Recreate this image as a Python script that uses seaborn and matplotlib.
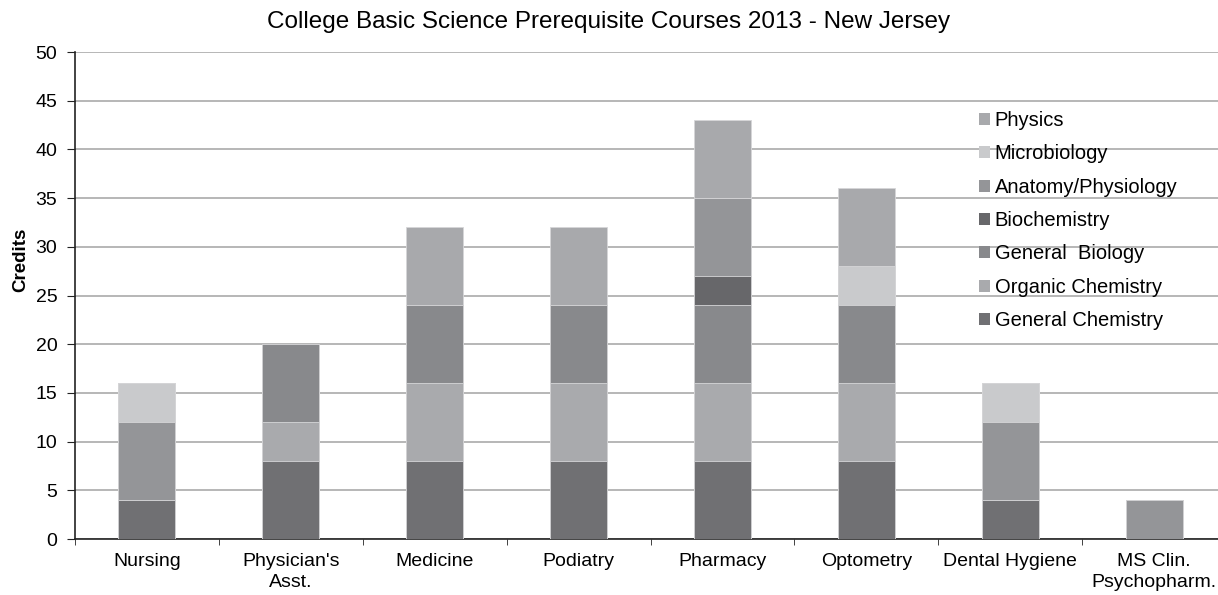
import pandas as pd
import matplotlib
matplotlib.use("Agg")
import matplotlib.pyplot as plt
import seaborn as sns
from matplotlib.patches import Patch

programs = ["Nursing", "Physician's\nAsst.", "Medicine", "Podiatry", "Pharmacy",
            "Optometry", "Dental Hygiene", "MS Clin.\nPsychopharm."]

# bottom-up stacking order
courses = ["General Chemistry", "Organic Chemistry", "General  Biology", "Biochemistry",
           "Anatomy/Physiology", "Microbiology", "Physics"]
general_chem = [4, 8, 8, 8, 8, 8, 4, 0]
organic_chem = [0, 4, 8, 8, 8, 8, 0, 0]
general_bio = [0, 8, 8, 8, 8, 8, 0, 0]
biochem = [0, 0, 0, 0, 3, 0, 0, 0]
anatomy_phys = [8, 0, 0, 0, 8, 0, 8, 4]
microbio = [4, 0, 0, 0, 0, 4, 4, 0]
physics = [0, 0, 8, 8, 8, 8, 0, 0]

colors = ["#707073", "#a9aaad", "#88898c", "#67676a", "#949598", "#c9cacc", "#a8a9ac"]

df = pd.DataFrame({"Program": programs, "General Chemistry": general_chem,
                   "Organic Chemistry": organic_chem, "General  Biology": general_bio,
                   "Biochemistry": biochem, "Anatomy/Physiology": anatomy_phys,
                   "Microbiology": microbio, "Physics": physics})
cum = df[courses].cumsum(axis=1)

plt.rcParams["font.family"] = ["Liberation Sans", "DejaVu Sans"]
fig, ax = plt.subplots(figsize=(12.18, 5.95), dpi=100)
fig.subplots_adjust(left=0.0616, right=1.0066, top=0.9126, bottom=0.094)

# draw from the tallest cumulative sum down so lower segments cover upper ones
for course, col in reversed(list(zip(courses, colors))):
    sns.barplot(x=df["Program"], y=cum[course], color=col, width=0.396,
                edgecolor="#d6d6d8", linewidth=0.6, ax=ax, zorder=3, saturation=1)

ax.set_ylim(0, 50)
ax.set_yticks(range(0, 51, 5))
ax.set_xlim(-0.5, len(programs) - 0.5)
ax.yaxis.grid(True, color="#a3a3a3", linewidth=1.1, zorder=0)
ax.set_axisbelow(True)
ax.set_xlabel("")
ax.set_ylabel("Credits", fontsize=13.5, fontweight="bold")
ax.yaxis.set_label_coords(-0.04, 0.573)
fig.suptitle("College Basic Science Prerequisite Courses 2013 - New Jersey",
             fontsize=17.5, x=0.5, y=0.981, va="top")
ax.tick_params(axis="both", labelsize=14, color="#222222", length=5.8)
ax.tick_params(axis="y", pad=7)
ax.tick_params(axis="x", length=0, pad=10)
ax.set_xticks(range(len(programs)))
ax.set_xticklabels(programs, linespacing=1.3)
# tick marks between categories
ax.set_xticks([i - 0.5 for i in range(len(programs) + 1)], minor=True)
ax.tick_params(axis="x", which="minor", length=4, color="#222222")
for s in ["top", "right"]:
    ax.spines[s].set_visible(False)
for s in ["left", "bottom"]:
    ax.spines[s].set_color("#222222")
    ax.spines[s].set_linewidth(1.2)

handles = [Patch(facecolor=c, label=n) for n, c in zip(courses, colors)][::-1]
ax.legend(handles=handles, loc="upper left", bbox_to_anchor=(0.778, 0.895), frameon=False,
          fontsize=14.5, handlelength=0.55, handleheight=0.55, handletextpad=0.25,
          labelspacing=0.71, borderaxespad=0)

fig.savefig("out.png", dpi=100)
